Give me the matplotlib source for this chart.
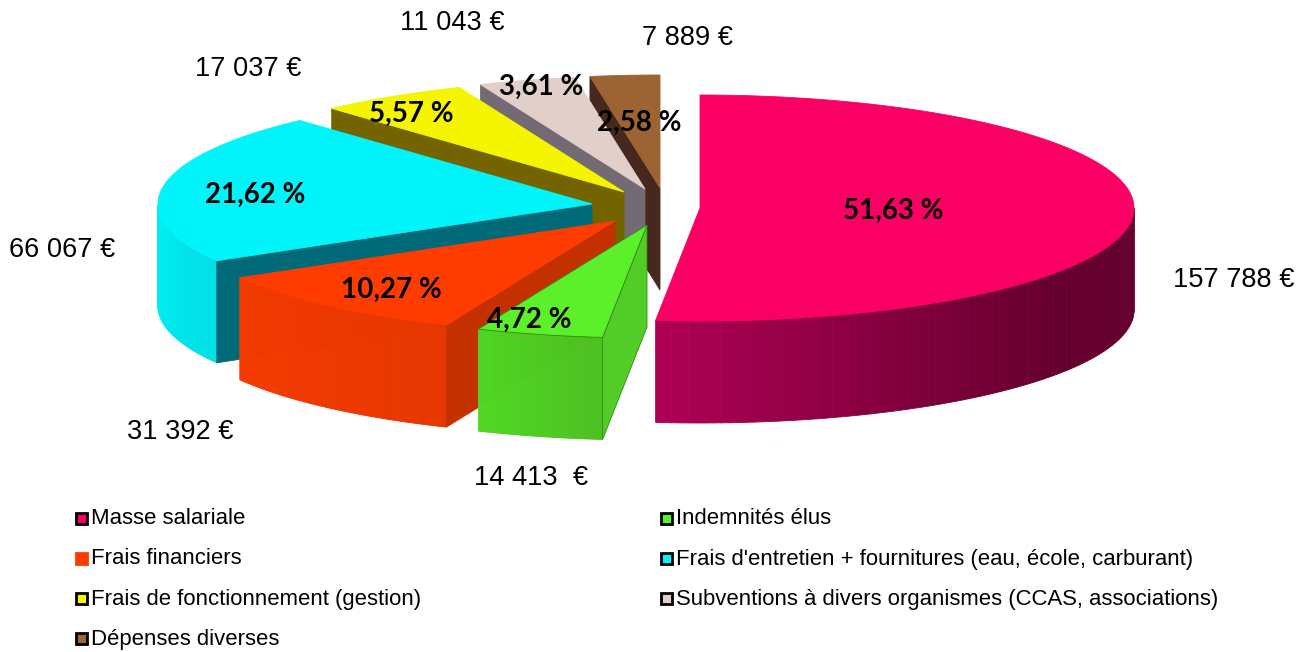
import numpy as np
import matplotlib
matplotlib.use("Agg")
import matplotlib.pyplot as plt
from matplotlib.patches import Polygon, Rectangle

categories = ["Masse salariale", "Indemnités élus", "Frais financiers",
              "Frais d'entretien + fournitures (eau, école, carburant)",
              "Frais de fonctionnement (gestion)",
              "Subventions à divers organismes (CCAS, associations)",
              "Dépenses diverses"]
shares = [51.63, 4.72, 10.27, 21.62, 5.57, 3.61, 2.58]
share_labels = ["51,63 %", "4,72 %", "10,27 %", "21,62 %", "5,57 %", "3,61 %", "2,58 %"]
euro_labels = ["157 788 €", "14 413  €", "31 392 €", "66 067 €", "17 037 €", "11 043 €", "7 889 €"]

# ---- layout and style (pixel space of the figure) ----
RX, RY, DEPTH = 434, 113, 102
apex = [(700, 208), (647, 225), (615, 221), (592, 204), (624, 192), (645, 189), (660, 188)]
top_col = ["#fa0064", "#5cf02a", "#ff3c00", "#00f5fa", "#f5f500", "#e2cfc9", "#9c6433"]
cut_col = [None, "#52cc26", "#c43000", "#006a78", "#736400", "#736a73", "#46281e"]
rim_l = ["#b00055", "#50d824", "#f53a00", "#00f0f5", None, None, None]
rim_r = ["#66002e", "#4cc020", "#e63600", "#00dfe6", None, None, None]
edge_col = [None, "#2f8a14", None, None, None, None, None]
euro_xy = [(1234, 280), (531, 478), (180, 432), (62, 250), (248, 69), (452, 23), (687, 38)]
pct_xy = [(893, 211), (529, 320), (391, 290), (255, 195), (411, 114), (541, 87), (639, 123)]
legend_xy = [(75, 518), (660, 518), (75, 558), (660, 558), (75, 598), (660, 598), (75, 638)]
legend_edge = ["#000000", "#000000", "#ff3c00", "#000000", "#000000", "#000000", "#000000"]
font_text = "Liberation Sans"
font_pct = "Lato"

fig = plt.figure(figsize=(13.08, 6.52), dpi=100, facecolor="white")
ax = fig.add_axes([0, 0, 1, 1])
ax.set_xlim(0, 1308)
ax.set_ylim(652, 0)
ax.axis("off")


def rim(c, a):
    a = np.radians(a)
    return np.column_stack([c[0] + RX * np.sin(a), c[1] - RY * np.cos(a)])


def mix(c1, c2, t):
    c1, c2 = map(np.array, (matplotlib.colors.to_rgb(c1), matplotlib.colors.to_rgb(c2)))
    return tuple(c1 + (c2 - c1) * t)


edges = np.concatenate([[0], np.cumsum(shares)]) / sum(shares) * 360
order = [6, 5, 4, 3, 2, 1, 0]

for i in order:
    a0, a1 = edges[i], edges[i + 1]
    c = apex[i]
    ang = np.linspace(a0, a1, 120)
    arc = rim(c, ang)
    down = np.array([0, DEPTH])

    # rim side, only where the rim faces the viewer
    lo, hi = max(a0, 90), min(a1, 270)
    if hi > lo and rim_l[i]:
        steps = np.linspace(lo, hi, 90)
        pts = rim(c, steps)
        for k in range(len(steps) - 1):
            if i == 0:
                col = mix(rim_l[i], rim_r[i], np.clip((pts[k, 0] - c[0] + 45) / 400, 0, 1))
            else:
                col = mix(rim_r[i], rim_l[i], (steps[k] - lo) / (hi - lo))
            q = np.array([pts[k], pts[k + 1], pts[k + 1] + down, pts[k] + down])
            ax.add_patch(Polygon(q, closed=True, fc=col, ec=col, lw=0.6, zorder=1))

    # cut face on the leading edge
    if cut_col[i]:
        p = rim(c, np.array([a0]))[0]
        q = np.array([c, p, p + down, np.array(c) + down])
        ax.add_patch(Polygon(q, closed=True, fc=cut_col[i], ec=edge_col[i] or cut_col[i], lw=0.6, zorder=1))

    # top face
    top = np.vstack([[c], arc])
    ax.add_patch(Polygon(top, closed=True, fc=top_col[i], ec=edge_col[i] or top_col[i], lw=0.6, zorder=1))

for (x, y), t in zip(euro_xy, euro_labels):
    ax.text(x, y, t, ha="center", va="center", fontsize=19.6, family=font_text, color="black")

for (x, y), t in zip(pct_xy, share_labels):
    ax.text(x, y, t, ha="center", va="center", fontsize=20, family=font_pct,
            fontweight="bold", color="black", zorder=5)

for (x, y), t, col, e in zip(legend_xy, categories, top_col, legend_edge):
    ax.add_patch(Rectangle((x + 0.5, y - 5.5), 11, 11, fc=col, ec=e, lw=2.0, zorder=5))
    ax.text(x + 16, y + 1, t, ha="left", va="center", fontsize=15.9, family=font_text, color="black")

fig.savefig("out.png", dpi=100, facecolor="white")
